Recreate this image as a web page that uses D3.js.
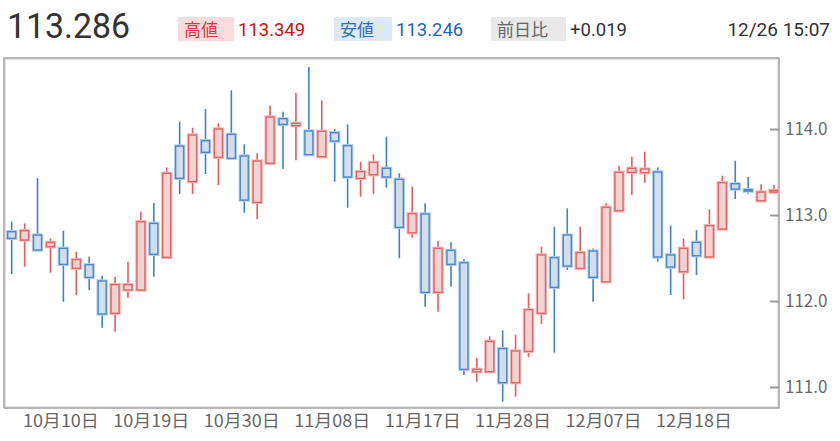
<!DOCTYPE html>
<html lang="ja">
<head>
<meta charset="utf-8">
<title>USD/JPY</title>
<script src="https://d3js.org/d3.v7.min.js"></script>
<style>
  body { margin: 0; background: #fff; }
  svg { display: block; }
</style>
</head>
<body>
<svg id="chart" width="840" height="441"></svg>
<script>
// trading days (Oct 4 - Dec 26)
var dates = ["10/04","10/05","10/06","10/09","10/10","10/11","10/12","10/13","10/16","10/17",
             "10/18","10/19","10/20","10/23","10/24","10/25","10/26","10/27","10/30","10/31",
             "11/01","11/02","11/03","11/06","11/07","11/08","11/09","11/10","11/13","11/14",
             "11/15","11/16","11/17","11/20","11/21","11/22","11/23","11/24","11/27","11/28",
             "11/29","11/30","12/01","12/04","12/05","12/06","12/07","12/08","12/11","12/12",
             "12/13","12/14","12/15","12/18","12/19","12/20","12/21","12/22","12/25","12/26"];

var opens  = [112.806,112.709,112.767,112.632,112.612,112.380,112.422,112.233,111.857,112.128,
              112.128,112.903,112.508,113.802,113.388,113.864,113.671,113.938,113.686,113.147,
              113.601,114.120,114.039,113.977,113.678,113.957,113.806,113.427,113.469,113.543,
              113.415,112.794,113.012,112.101,112.589,112.445,111.178,111.178,111.446,111.050,
              111.415,111.857,112.504,112.767,112.380,112.581,112.224,113.050,113.496,113.492,
              113.500,112.535,112.341,112.682,112.512,112.837,113.364,113.294,113.166,113.267];
var highs  = [112.922,112.903,113.427,112.729,112.818,112.574,112.516,112.295,112.283,112.457,
              113.039,113.140,113.554,114.085,114.015,114.233,114.066,114.450,113.822,113.717,
              114.271,114.202,114.419,114.721,114.333,114.000,114.054,113.620,113.705,113.911,
              113.485,113.329,113.136,112.701,112.682,112.488,111.341,111.589,111.659,111.608,
              112.089,112.632,112.864,113.078,112.864,112.612,113.136,113.574,113.678,113.736,
              113.554,112.876,112.729,112.826,113.066,113.457,113.631,113.442,113.357,113.349];
var lows   = [112.314,112.399,112.590,112.329,111.992,112.070,112.128,111.690,111.643,112.039,
              112.120,112.283,112.500,113.244,113.244,113.477,113.349,113.640,113.027,112.953,
              113.595,113.535,113.636,113.695,113.672,113.388,113.085,113.213,113.244,113.318,
              112.497,112.736,111.934,111.876,112.167,111.140,111.062,111.172,110.829,110.888,
              111.349,111.733,111.399,112.360,112.375,111.992,112.218,113.046,113.233,113.376,
              112.457,112.070,112.020,112.302,112.508,112.833,113.186,113.248,113.163,113.246];
var closes = [112.729,112.818,112.593,112.682,112.426,112.481,112.275,111.849,112.190,112.190,
              112.922,112.543,113.485,113.427,113.930,113.729,114.000,113.659,113.174,113.628,
              114.140,114.054,114.066,113.702,113.973,113.860,113.442,113.504,113.612,113.442,
              112.857,113.015,112.101,112.612,112.426,111.205,111.205,111.531,111.050,111.419,
              111.899,112.535,112.159,112.407,112.562,112.275,113.089,113.496,113.543,113.535,
              112.512,112.395,112.612,112.527,112.876,113.376,113.302,113.279,113.267,113.286];

var yTicks = [111, 112, 113, 114];
var xTickDates = ["10/10","10/19","10/30","11/08","11/17","11/28","12/07","12/18"];

var svg = d3.select("#chart");

// ---- header ----
var head = svg.append("g").attr("font-family", "Roboto, 'Liberation Sans', sans-serif");
head.append("text").attr("x", 7).attr("y", 38).attr("font-size", 35).attr("fill", "#333")
    .attr("textLength", 123).attr("lengthAdjust", "spacingAndGlyphs").text("113.286");

function badge(x, w, label, bg, fg) {
  head.append("rect").attr("x", x).attr("y", 17).attr("width", w).attr("height", 24).attr("fill", bg);
  head.append("text").attr("x", x + 6).attr("y", 35.5).attr("font-size", 17)
      .attr("font-family", "'Noto Sans CJK JP', sans-serif").attr("fill", fg).text(label);
}
badge(178, 56, "高値", "#fadcdc", "#d23c3c");
head.append("text").attr("x", 238).attr("y", 36).attr("font-size", 18.5).attr("fill", "#cc1111").text("113.349");
badge(334, 58, "安値", "#dde9f6", "#2f6fb8");
head.append("text").attr("x", 396).attr("y", 36).attr("font-size", 18.5).attr("fill", "#1f66b8").text("113.246");
badge(491, 75, "前日比", "#e8e8e8", "#666");
head.append("text").attr("x", 570).attr("y", 36).attr("font-size", 18.5).attr("fill", "#333").text("+0.019");
head.append("text").attr("x", 830).attr("y", 36).attr("font-size", 19).attr("fill", "#333")
    .attr("text-anchor", "end").text("12/26 15:07");

// ---- chart area ----
var plot = { left: 4, right: 779, top: 58, bottom: 408 };

var x = d3.scalePoint().domain(dates).range([11.7, 774]);
var y = d3.scaleLinear().domain([110.756, 114.826]).range([plot.bottom, plot.top]);

svg.append("rect").attr("x", plot.left + 1.5).attr("y", plot.top + 1.5)
   .attr("width", plot.right - plot.left - 3).attr("height", plot.bottom - plot.top - 3)
   .attr("fill", "#fff").attr("stroke", "#e2e2e2").attr("stroke-width", 1);
svg.append("rect").attr("x", plot.left).attr("y", plot.top)
   .attr("width", plot.right - plot.left).attr("height", plot.bottom - plot.top)
   .attr("fill", "none").attr("stroke", "#8a8a8a").attr("stroke-width", 1.2);

// y axis on the right, ticks inside
var yAxis = d3.axisRight(y).tickValues(yTicks).tickSize(0).tickFormat(d3.format(".1f"));
var ya = svg.append("g").attr("transform", "translate(" + plot.right + ",0)").call(yAxis);
ya.select(".domain").remove();
ya.selectAll("text").attr("x", 6).attr("font-size", 17).attr("fill", "#6a6a6a")
  .attr("font-family", "'Noto Sans CJK JP', sans-serif");
ya.selectAll(".tick").append("line").attr("x1", -9).attr("x2", 0)
  .attr("stroke", "#9a9a9a").attr("stroke-width", 2);

// x axis labels
var xAxis = d3.axisBottom(x).tickValues(xTickDates).tickSize(0)
  .tickFormat(function(d) { var p = d.split("/"); return p[0] + "月" + p[1] + "日"; });
var xa = svg.append("g").attr("transform", "translate(-3," + plot.bottom + ")").call(xAxis);
xa.select(".domain").remove();
xa.selectAll("text").attr("y", 7).attr("font-size", 17).attr("fill", "#666")
  .attr("font-family", "'Noto Sans CJK JP', sans-serif")
  .attr("textLength", 76).attr("lengthAdjust", "spacingAndGlyphs");

// ---- candles ----
var data = dates.map(function(d, i) {
  return { date: d, o: opens[i], h: highs[i], l: lows[i], c: closes[i] };
});
function up(d) { return d.c >= d.o; }

var g = svg.append("g");
var candle = g.selectAll("g.candle").data(data).enter().append("g").attr("class", "candle");

candle.append("line")
  .attr("x1", function(d) { return x(d.date); })
  .attr("x2", function(d) { return x(d.date); })
  .attr("y1", function(d) { return y(d.h); })
  .attr("y2", function(d) { return y(d.l); })
  .attr("stroke", function(d) { return up(d) ? "#e85a5a" : "#3f80cc"; })
  .attr("stroke-width", 1.6);

var bw = 8;
// soft halo
candle.append("rect")
  .attr("x", function(d) { return x(d.date) - bw / 2; })
  .attr("y", function(d) { return y(Math.max(d.o, d.c)); })
  .attr("width", bw)
  .attr("height", function(d) { return Math.max(1, y(Math.min(d.o, d.c)) - y(Math.max(d.o, d.c))); })
  .attr("fill", "none")
  .attr("stroke", function(d) { return up(d) ? "#f4b9b9" : "#b3cdea"; })
  .attr("stroke-width", 3.4);
candle.append("rect")
  .attr("x", function(d) { return x(d.date) - bw / 2; })
  .attr("y", function(d) { return y(Math.max(d.o, d.c)); })
  .attr("width", bw)
  .attr("height", function(d) { return Math.max(1, y(Math.min(d.o, d.c)) - y(Math.max(d.o, d.c))); })
  .attr("fill", function(d) { return up(d) ? "#f2d3d3" : "#d1deeb"; })
  .attr("stroke", function(d) { return up(d) ? "#e36666" : "#4d88cc"; })
  .attr("stroke-width", 1.4);
</script>
</body>
</html>
